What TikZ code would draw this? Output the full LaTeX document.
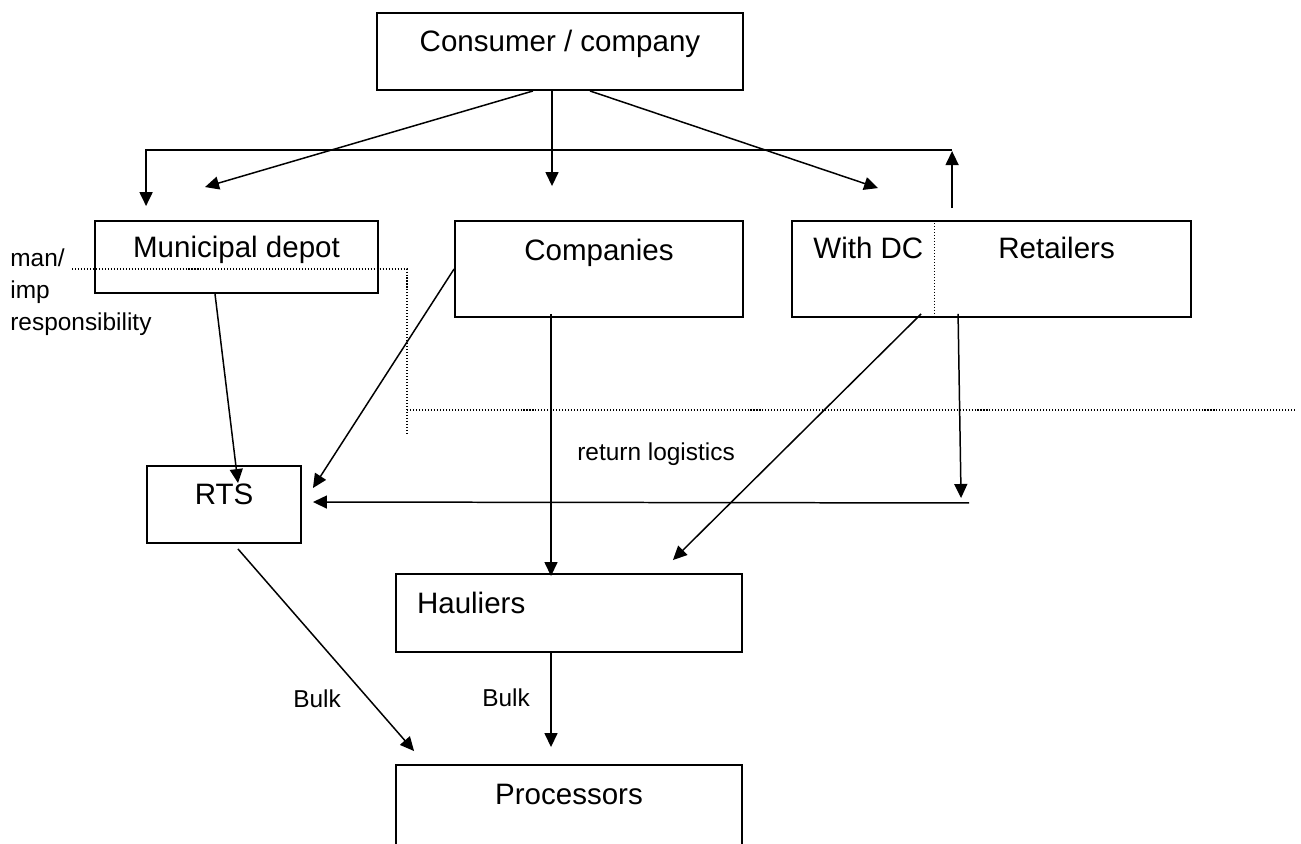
\documentclass[tikz,border=0pt]{standalone}
\usepackage{fontspec}
\setmainfont{Liberation Sans}
\usetikzlibrary{arrows.meta,calc}

\begin{document}
\begin{tikzpicture}[
x=0.02cm, y=-0.02cm,
box/.style={draw, line width=1.1pt, inner sep=0pt, text height=0pt, text depth=0pt,
  font=\fontsize{16.8pt}{20pt}\selectfont},
boxtext/.style={inner sep=0pt, font=\fontsize{16.8pt}{20pt}\selectfont},
smalltext/.style={inner sep=0pt, font=\fontsize{13.9pt}{18.2pt}\selectfont},
flow/.style={line width=0.85pt, -{Triangle[length=0.28cm,width=0.26cm]}},
border/.style={line width=0.6pt, dash pattern=on 0.6pt off 1.1pt}
]
\useasboundingbox (0,0) rectangle (1301,843);
\clip (0,0) rectangle (1301,843);

% -------- Boxes --------
\node[box, minimum width=7.32cm, minimum height=1.54cm] (consumer) at (560,51.5) {Consumer / company};
\node[box, minimum width=5.66cm, minimum height=1.44cm] (depot) at (236.5,257) {Municipal depot};
\node[box, minimum width=5.76cm, minimum height=1.92cm, text depth=0.36cm] (companies) at (599,269) {Companies};
\node[box, minimum width=7.98cm, minimum height=1.92cm] (retailers) at (991.5,269) {};
\node[box, minimum width=3.08cm, minimum height=1.54cm] (rts) at (224,504.5) {RTS};
\node[box, minimum width=6.92cm, minimum height=1.56cm, text width=6.08cm, inner xsep=0.42cm, align=left] (hauliers) at (569,613) {Hauliers};
\node[box, minimum width=6.92cm, minimum height=1.8cm, text depth=0.24cm] (processors) at (569,810) {Processors};

% -------- Retailers split --------
\node[boxtext, anchor=base west] (withdc) at ($(retailers.north west)+(22,38)$) {With DC};
\node[boxtext, anchor=base] (retailtext) at ($(retailers.north west)+(265.5,38)$) {Retailers};
\draw[border] ($(retailers.north west)+(143,0)$) -- ($(retailers.south west)+(143,0)$);

% -------- Responsibility boundary --------
\node[smalltext, anchor=north west, align=left] (resp) at (10,248) {man/\\imp\\responsibility};
\draw[border] (72,269) -- (407,269) -- (407,434);
\draw[border] (407,410) -- (1295,410);

% -------- Flows from consumer --------
\draw[flow] ($(consumer.south)+(-27,0)$) -- ($(depot.north)+(-31.5,-33)$);
\draw[flow] ($(consumer.south)+(-8,0)$) -- ($(companies.north)+(-47,-34)$);
\draw[flow] ($(consumer.south)+(30,0)$) -- ($(retailers.north west)+(87,-32)$);

% -------- Loop retailers -> depot --------
\draw[flow] ($(retailers.north west)+(161,-12)$) -- ($(retailers.north west)+(161,-69)$);
\draw[flow, line width=1.1pt] ($(retailers.north west)+(161,-70)$) -| ($(depot.north west)+(52,-14)$);

% -------- Flows to RTS and hauliers --------
\draw[flow] ($(depot.south)+(-21.5,0)$) -- ($(rts.north)+(14,18)$);
\draw[flow] (companies.west) -- ($(rts.east)+(11,-16.5)$);
\draw[flow] ($(companies.south)+(-48,-4)$) -- ($(hauliers.north)+(-18,3)$);
\draw[flow] ($(retailers.south west)+(130,-4)$) -- ($(hauliers.north east)+(-70,-13)$);
\draw[flow] ($(retailers.south west)+(167,-4)$) -- ($(retailers.south west)+(170,180)$);
\draw[flow] ($(retailers.south west)+(178,185)$) -- ($(rts.east)+(11,-2.5)$);
\node[smalltext, anchor=base west] (retlog) at (577,460) {return logistics};

% -------- Bulk to processors --------
\draw[flow] ($(rts.south)+(14,5)$) -- ($(processors.north west)+(19,-13)$);
\draw[flow] ($(hauliers.south)+(-18,0)$) -- ($(processors.north)+(-18,-17)$);
\node[smalltext, anchor=base west] (bulkrts) at (293,707) {Bulk};
\node[smalltext, anchor=base west] (bulkhaul) at (482,706) {Bulk};

\end{tikzpicture}
\end{document}
